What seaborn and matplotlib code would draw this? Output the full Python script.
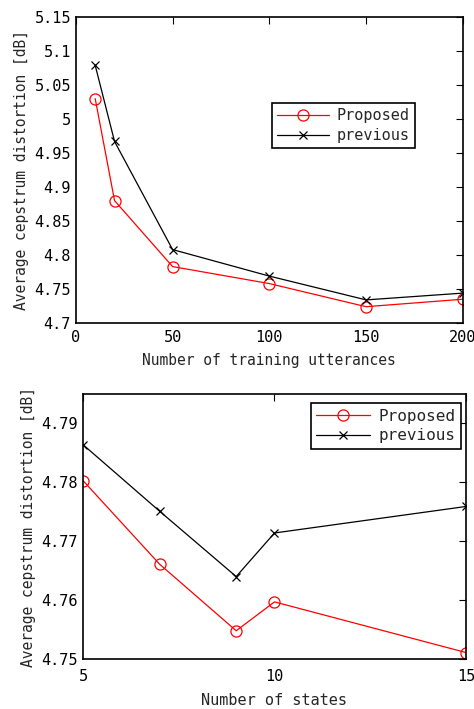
import matplotlib
matplotlib.use("Agg")
import matplotlib.pyplot as plt
import seaborn as sns
import pandas as pd

# top panel: number of training utterances
utterances = [10, 20, 50, 100, 150, 200]
proposed_utt = [5.030, 4.880, 4.783, 4.758, 4.724, 4.735]
previous_utt = [5.079, 4.967, 4.808, 4.769, 4.734, 4.744]

# bottom panel: number of states
states = [5, 7, 9, 10, 15]
proposed_st = [4.7803, 4.7661, 4.7548, 4.7597, 4.7511]
previous_st = [4.7864, 4.7751, 4.7640, 4.7714, 4.7759]

ylabel = "Average cepstrum distortion [dB]"

sns.set_style("white")
plt.rcParams["font.family"] = ["DejaVu Sans Mono"]
plt.rcParams["font.size"] = 10.5


def draw(ax, x, prop, prev):
    df = pd.DataFrame({"x": x, "Proposed": prop, "previous": prev})
    sns.lineplot(data=df, x="x", y="Proposed", ax=ax, color="#ff0000",
                 marker="o", markersize=8, markerfacecolor="none",
                 markeredgecolor="#ff0000", markeredgewidth=0.9,
                 linewidth=0.9, label="Proposed")
    sns.lineplot(data=df, x="x", y="previous", ax=ax, color="black",
                 marker="x", markersize=6, markeredgecolor="black",
                 markeredgewidth=0.9, linewidth=0.9, label="previous")
    ax.tick_params(direction="in", top=True, right=True, length=5,
                   width=0.8, labelsize=11, colors="black")
    for s in ax.spines.values():
        s.set_color("black")
        s.set_linewidth(1.2)


fig = plt.figure(figsize=(4.74, 7.09), dpi=100)

ax1 = fig.add_axes([0.160, 0.5444, 0.8165, 0.4316])
draw(ax1, utterances, proposed_utt, previous_utt)
ax1.set_xlim(0, 200)
ax1.set_ylim(4.7, 5.15)
ax1.set_xticks([0, 50, 100, 150, 200])
ax1.set_yticks([4.7, 4.75, 4.8, 4.85, 4.9, 4.95, 5.0, 5.05, 5.1, 5.15])
ax1.set_yticklabels(["4.7", "4.75", "4.8", "4.85", "4.9", "4.95", "5",
                     "5.05", "5.1", "5.15"])
ax1.tick_params(axis="x", pad=5)
ax1.set_xlabel("Number of training utterances", fontsize=10.5, labelpad=6)
ax1.set_ylabel(ylabel, fontsize=10.5)
ax1.legend(loc="upper left", bbox_to_anchor=(0.506, 0.719), fontsize=11,
           frameon=True, fancybox=False, edgecolor="black", framealpha=1,
           handlelength=3.4, handletextpad=0.5, borderpad=0.35,
           labelspacing=0.3, borderaxespad=0)

ax2 = fig.add_axes([0.1751, 0.0705, 0.808, 0.3738])
draw(ax2, states, proposed_st, previous_st)
ax2.set_xlim(5, 15)
ax2.set_ylim(4.75, 4.795)
ax2.set_xticks([5, 10, 15])
ax2.set_yticks([4.75, 4.76, 4.77, 4.78, 4.79])
ax2.tick_params(axis="x", pad=7)
ax2.set_xlabel("Number of states", fontsize=11, labelpad=7)
ax2.set_ylabel(ylabel, fontsize=10.5)
ax2.legend(loc="upper right", bbox_to_anchor=(0.987, 0.966), fontsize=11.5,
           frameon=True, fancybox=False, edgecolor="black", framealpha=1,
           handlelength=3.4, handletextpad=0.5, borderpad=0.35,
           labelspacing=0.3, borderaxespad=0)

for leg in (ax1.get_legend(), ax2.get_legend()):
    leg.get_frame().set_linewidth(1.2)

fig.savefig("out.png", dpi=100)
